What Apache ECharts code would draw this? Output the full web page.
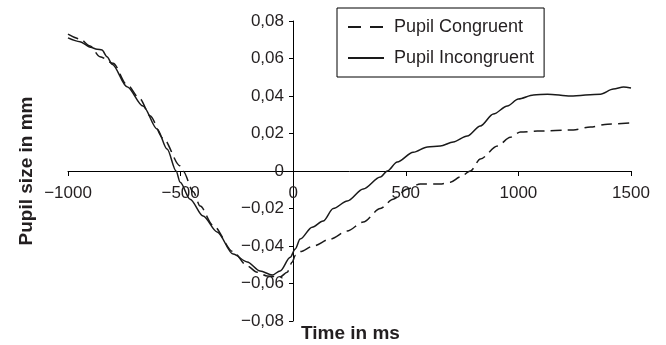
<!DOCTYPE html>
<html>
<head>
<meta charset="utf-8">
<script src="https://cdn.jsdelivr.net/npm/echarts@6/dist/echarts.min.js"></script>
<style>
  html, body { margin: 0; padding: 0; background: #fff; }
  #chart { width: 666px; height: 345px; }
</style>
</head>
<body>
<div id="chart"></div>
<script>
// Pupil Incongruent (solid): time in ms, pupil size in mm
const incongruentTime = [-1000, -947, -900, -871, -849, -827, -804, -738, -667, -604, -560, -520, -502, -458, -400, -338, -267, -204, -147, -93, -58, -13, 9, 31, 84, 133, 178, 240, 311, 387, 418, 462, 533, 596, 653, 711, 773, 831, 889, 951, 1000, 1067, 1129, 1231, 1364, 1422, 1467, 1500]
const incongruentSize = [0.071, 0.069, 0.066, 0.065, 0.0645, 0.061, 0.057, 0.045, 0.0347, 0.0224, 0.0117, 0, -0.006, -0.015, -0.024, -0.0325, -0.0443, -0.0485, -0.0533, -0.0555, -0.0533, -0.046, -0.0416, -0.0363, -0.030, -0.0267, -0.020, -0.016, -0.0096, -0.0032, 0, 0.0048, 0.010, 0.0128, 0.0133, 0.0155, 0.0187, 0.024, 0.0304, 0.0347, 0.0384, 0.0405, 0.041, 0.040, 0.041, 0.0437, 0.0448, 0.0443]

// Pupil Congruent (dashed)
const congruentTime = [-1000, -947, -902, -858, -800, -738, -680, -636, -578, -502, -489, -444, -413, -356, -267, -204, -160, -116, -58, -27, -4, 9, 31, 89, 164, 240, 311, 387, 444, 507, 564, 653, 698, 742, 787, 831, 907, 964, 1009, 1084, 1244, 1320, 1396, 1500]
const congruentSize = [0.073, 0.0704, 0.0667, 0.061, 0.0575, 0.046, 0.0384, 0.0295, 0.0175, 0.0027, 0, -0.011, -0.0187, -0.029, -0.043, -0.0507, -0.054, -0.056, -0.0565, -0.054, -0.0485, -0.045, -0.043, -0.040, -0.0363, -0.032, -0.0272, -0.020, -0.015, -0.0096, -0.0069, -0.0069, -0.006, -0.0032, 0, 0.0064, 0.0133, 0.018, 0.0208, 0.0213, 0.0219, 0.0235, 0.025, 0.0256]

const seriesNames = ['Pupil Congruent', 'Pupil Incongruent']

const font = 'Liberation Sans, Arial, sans-serif'
const ink = '#231f20'

const pairs = (xs, ys) => xs.map((x, i) => [x, ys[i]])

const fmtY = v => {
  if (Math.abs(v) < 1e-9) return '0'
  return (v < 0 ? '\u2212' : '') + Math.abs(v).toFixed(2).replace('.', ',')
}
const fmtX = v => (v < 0 ? '\u2212' : '') + Math.abs(v)

const chart = echarts.init(document.getElementById('chart'))

// 坐标轴交叉于原点: 用 offset 把轴 (连同刻度标签) 移到零点.
chart.setOption({
  animation: false,
  grid: { left: 68, right: 35, top: 21, bottom: 24, containLabel: false, outerBoundsMode: 'none' },
  title: {
    text: 'Time in ms',
    left: 301,
    top: 324,
    padding: 0,
    textStyle: { fontFamily: font, fontSize: 19, fontWeight: 'bold', color: ink },
  },
  legend: {
    data: [
      { name: seriesNames[0], lineStyle: { type: [13, 9] } },
      { name: seriesNames[1] },
    ],
    orient: 'vertical',
    left: 337,
    top: 8,
    padding: [10, 10, 10, 10],
    itemGap: 13,
    itemWidth: 36,
    itemHeight: 14,
    borderColor: '#000',
    borderWidth: 1,
    itemStyle: { opacity: 0 },
    textStyle: { fontFamily: font, fontSize: 18, color: ink, padding: [0, 0, 0, 5] },
  },
  xAxis: {
    type: 'value',
    min: -1000,
    max: 1500,
    interval: 500,
    offset: -150,
    splitLine: { show: false },
    axisLine: { onZero: false, lineStyle: { color: '#000', width: 1 } },
    axisTick: { length: 5, lineStyle: { color: '#000' } },
    axisLabel: { formatter: fmtX, fontFamily: font, fontSize: 17, color: ink, margin: 14 },
  },
  yAxis: {
    type: 'value',
    min: -0.08,
    max: 0.08,
    interval: 0.02,
    offset: -225,
    name: 'Pupil size in mm',
    nameLocation: 'middle',
    nameGap: 257,
    nameTextStyle: { fontFamily: font, fontSize: 19, fontWeight: 'bold', color: ink },
    splitLine: { show: false },
    axisLine: { onZero: false, lineStyle: { color: '#000', width: 1 } },
    axisTick: { length: 4, lineStyle: { color: '#000' } },
    axisLabel: { formatter: fmtY, fontFamily: font, fontSize: 17, color: ink, margin: 9 },
  },
  series: [
    {
      name: seriesNames[0],
      type: 'line',
      data: pairs(congruentTime, congruentSize),
      symbol: 'none',
      smooth: 0.3,
      smoothMonotone: 'x',
      lineStyle: { color: '#1a1a1a', width: 1.5, type: [11, 6] },
      itemStyle: { color: '#1a1a1a' },
    },
    {
      name: seriesNames[1],
      type: 'line',
      data: pairs(incongruentTime, incongruentSize),
      symbol: 'none',
      smooth: 0.3,
      smoothMonotone: 'x',
      lineStyle: { color: '#1a1a1a', width: 1.5 },
      itemStyle: { color: '#1a1a1a' },
    },
  ],
})
</script>
</body>
</html>
